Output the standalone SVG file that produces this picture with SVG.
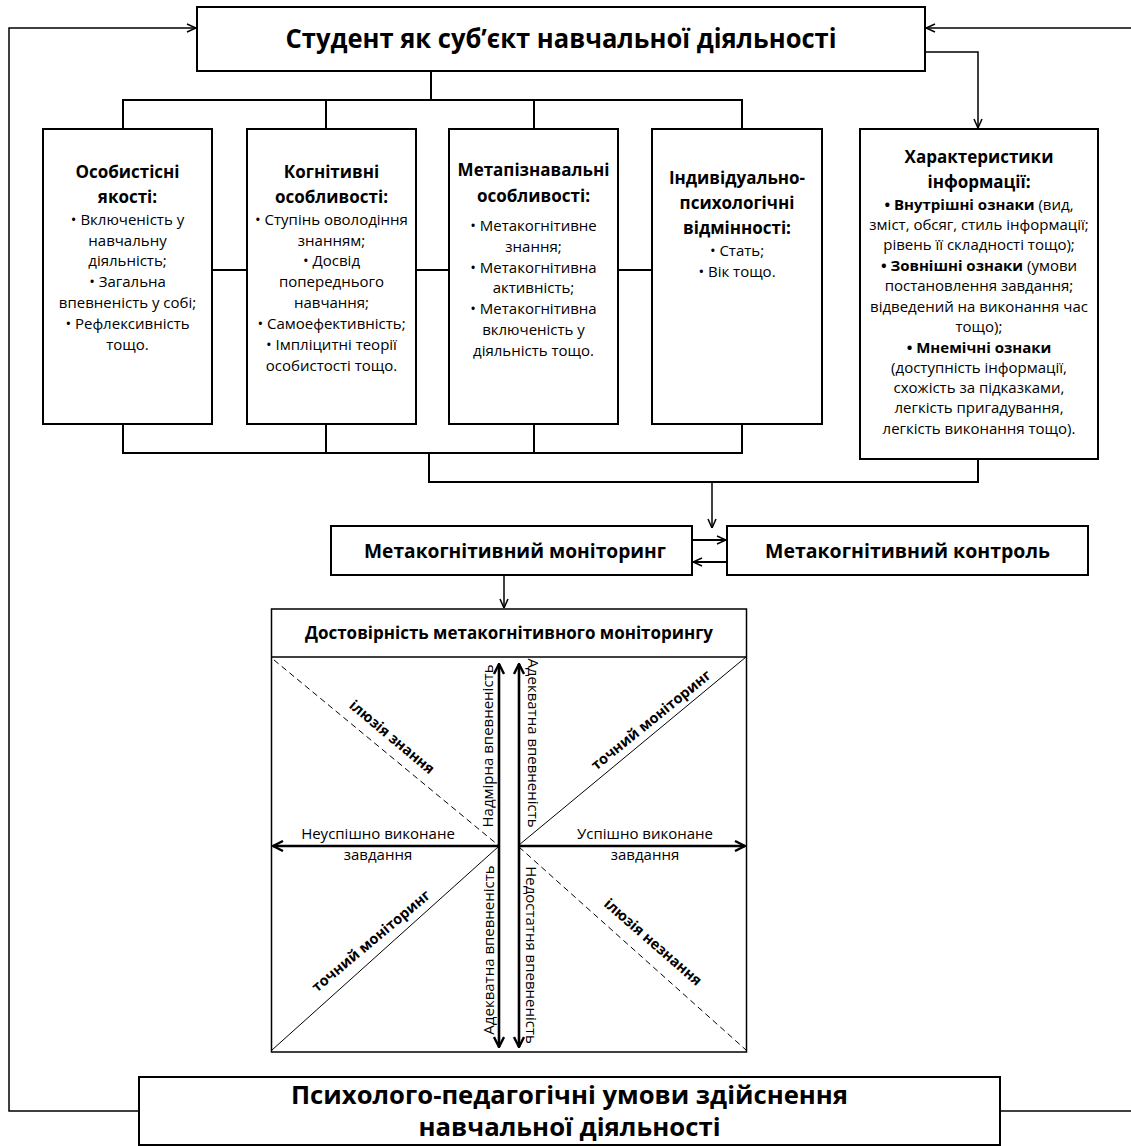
<svg xmlns="http://www.w3.org/2000/svg" width="1131" height="1146" viewBox="0 0 1131 1146">
<style>
.box{fill:#fff;stroke:#000;stroke-width:2}
.qbox{fill:#fff;stroke:#000;stroke-width:1.5}
.ln{fill:none;stroke:#000;stroke-width:2}
.thin{fill:none;stroke:#000;stroke-width:1.5}
.ax{fill:none;stroke:#000;stroke-width:2.6}
.diag{fill:none;stroke:#000;stroke-width:1}
.dash{fill:none;stroke:#000;stroke-width:1;stroke-dasharray:6 4}
text{font-family:"Open Sans","Noto Sans","DejaVu Sans",sans-serif;fill:#000}
.t{font-weight:700;font-size:26px;text-anchor:middle}
.m{font-weight:700;font-size:19px;text-anchor:middle}
.h{font-weight:700;font-size:17px;text-anchor:middle}
.b{font-size:15px;text-anchor:middle}
.bb{font-weight:700}
.q{font-size:15px;text-anchor:middle}
.d{font-weight:700;font-size:14.5px;text-anchor:middle}
</style>
<defs>
<marker id="a" viewBox="0 0 10 10" refX="10" refY="5" markerWidth="10" markerHeight="10" markerUnits="userSpaceOnUse" orient="auto-start-reverse">
<path d="M1,1 L10,5 L1,9" fill="none" stroke="#000" stroke-width="1.5"/>
</marker>
<marker id="ak" viewBox="0 0 12 12" refX="11" refY="6" markerWidth="12" markerHeight="12" markerUnits="userSpaceOnUse" orient="auto-start-reverse">
<path d="M1,1 L11,6 L1,11" fill="none" stroke="#000" stroke-width="2.4"/>
</marker>
</defs>

<g id="connectors">
<polyline class="thin" points="139,1111 9,1111 9,28 196,28" marker-end="url(#a)"/>
<polyline class="thin" points="1000,1111 1131,1111"/>
<polyline class="thin" points="1131,28 926,28" marker-end="url(#a)"/>
<polyline class="thin" points="925,52 978,52 978,128" marker-end="url(#a)"/>
<line class="ln" x1="431" y1="71" x2="431" y2="100"/>
<polyline class="ln" points="123,129 123,100 742,100 742,129"/>
<line class="ln" x1="326" y1="100" x2="326" y2="129"/>
<line class="ln" x1="534" y1="100" x2="534" y2="129"/>
<line class="ln" x1="212" y1="270" x2="247" y2="270"/>
<line class="ln" x1="416" y1="270" x2="449" y2="270"/>
<line class="ln" x1="618" y1="270" x2="652" y2="270"/>
<polyline class="ln" points="123,424 123,453 742,453 742,424"/>
<line class="ln" x1="326" y1="424" x2="326" y2="453"/>
<line class="ln" x1="534" y1="424" x2="534" y2="453"/>
<polyline class="ln" points="429,453 429,482 978,482 978,459"/>
<line class="thin" x1="712" y1="482" x2="712" y2="528" marker-end="url(#a)"/>
<line class="ln" x1="692" y1="540" x2="726" y2="540" marker-end="url(#a)"/>
<line class="ln" x1="727" y1="562" x2="693" y2="562" marker-end="url(#a)"/>
<line class="thin" x1="504" y1="575" x2="504" y2="608" marker-end="url(#a)"/>
</g>

<g id="node-student">
<rect class="box" x="197" y="7" width="728" height="64"/>
<text class="t" x="561" y="48" textLength="551" lengthAdjust="spacingAndGlyphs">Студент як суб’єкт навчальної діяльності</text>
</g>

<g id="node-personal">
<rect class="box" x="43" y="129" width="169" height="295"/>
<text class="h" x="127.5" y="178">Особистісні</text>
<text class="h" x="127.5" y="203">якості:</text>
<text class="b" x="127.5" y="225">• Включеність у</text>
<text class="b" x="127.5" y="246">навчальну</text>
<text class="b" x="127.5" y="266">діяльність;</text>
<text class="b" x="127.5" y="287">• Загальна</text>
<text class="b" x="127.5" y="308">впевненість у собі;</text>
<text class="b" x="127.5" y="329">• Рефлексивність</text>
<text class="b" x="127.5" y="350">тощо.</text>
</g>

<g id="node-cognitive">
<rect class="box" x="247" y="129" width="169" height="295"/>
<text class="h" x="331.5" y="178">Когнітивні</text>
<text class="h" x="331.5" y="203">особливості:</text>
<text class="b" x="331.5" y="225">• Ступінь оволодіння</text>
<text class="b" x="331.5" y="246">знанням;</text>
<text class="b" x="331.5" y="266">• Досвід</text>
<text class="b" x="331.5" y="287">попереднього</text>
<text class="b" x="331.5" y="308">навчання;</text>
<text class="b" x="331.5" y="329">• Самоефективність;</text>
<text class="b" x="331.5" y="350">• Імпліцитні теорії</text>
<text class="b" x="331.5" y="371">особистості тощо.</text>
</g>

<g id="node-metacognitive">
<rect class="box" x="449" y="129" width="169" height="295"/>
<text class="h" x="533.5" y="176">Метапізнавальні</text>
<text class="h" x="533.5" y="202">особливості:</text>
<text class="b" x="533.5" y="231">• Метакогнітивне</text>
<text class="b" x="533.5" y="252">знання;</text>
<text class="b" x="533.5" y="273">• Метакогнітивна</text>
<text class="b" x="533.5" y="293">активність;</text>
<text class="b" x="533.5" y="314">• Метакогнітивна</text>
<text class="b" x="533.5" y="335">включеність у</text>
<text class="b" x="533.5" y="356">діяльність тощо.</text>
</g>

<g id="node-individual">
<rect class="box" x="652" y="129" width="170" height="295"/>
<text class="h" x="737" y="184">Індивідуально-</text>
<text class="h" x="737" y="209">психологічні</text>
<text class="h" x="737" y="234">відмінності:</text>
<text class="b" x="737" y="256">• Стать;</text>
<text class="b" x="737" y="277">• Вік тощо.</text>
</g>

<g id="node-info">
<rect class="box" x="860" y="129" width="238" height="330"/>
<text class="h" x="979" y="163">Характеристики</text>
<text class="h" x="979" y="188">інформації:</text>
<text class="b" x="979" y="210"><tspan class="bb">• Внутрішні ознаки</tspan> (вид,</text>
<text class="b" x="979" y="230">зміст, обсяг, стиль інформації;</text>
<text class="b" x="979" y="250">рівень її складності тощо);</text>
<text class="b" x="979" y="271"><tspan class="bb">• Зовнішні ознаки</tspan> (умови</text>
<text class="b" x="979" y="291">постановлення завдання;</text>
<text class="b" x="979" y="312">відведений на виконання час</text>
<text class="b" x="979" y="332">тощо);</text>
<text class="b bb" x="979" y="353">• Мнемічні ознаки</text>
<text class="b" x="979" y="373">(доступність інформації,</text>
<text class="b" x="979" y="393">схожість за підказками,</text>
<text class="b" x="979" y="413">легкість пригадування,</text>
<text class="b" x="979" y="434">легкість виконання тощо).</text>
</g>

<g id="node-monitoring">
<rect class="box" x="331" y="526" width="361" height="49"/>
<text class="m" x="515" y="558" textLength="302" lengthAdjust="spacingAndGlyphs">Метакогнітивний моніторинг</text>
</g>

<g id="node-control">
<rect class="box" x="727" y="526" width="361" height="49"/>
<text class="m" x="907.5" y="558" textLength="285" lengthAdjust="spacingAndGlyphs">Метакогнітивний контроль</text>
</g>

<g id="node-reliability">
<rect class="qbox" x="271.5" y="609" width="475" height="443"/>
<line class="qbox" x1="271.5" y1="657" x2="746.5" y2="657"/>
<text class="h" x="509" y="639" style="font-size:18px" textLength="408" lengthAdjust="spacingAndGlyphs">Достовірність метакогнітивного моніторингу</text>
<line class="dash" x1="274" y1="660" x2="498" y2="845"/>
<line class="diag" x1="519" y1="845" x2="746" y2="657"/>
<line class="diag" x1="498" y1="847" x2="272" y2="1050"/>
<line class="dash" x1="519" y1="847" x2="746" y2="1050"/>
<line class="ax" x1="499" y1="846" x2="499" y2="664" marker-end="url(#ak)"/>
<line class="ax" x1="499" y1="846" x2="499" y2="1047" marker-end="url(#ak)"/>
<line class="ax" x1="519" y1="846" x2="519" y2="664" marker-end="url(#ak)"/>
<line class="ax" x1="519" y1="846" x2="519" y2="1047" marker-end="url(#ak)"/>
<line class="ax" x1="499" y1="846" x2="273" y2="846" marker-end="url(#ak)"/>
<line class="ax" x1="519" y1="846" x2="745" y2="846" marker-end="url(#ak)"/>
<text class="q" x="378" y="839">Неуспішно виконане</text>
<text class="q" x="378" y="860">завдання</text>
<text class="q" x="645" y="839">Успішно виконане</text>
<text class="q" x="645" y="860">завдання</text>
<text class="q" transform="translate(493,746) rotate(-90)">Надмірна впевненість</text>
<text class="q" transform="translate(528,743) rotate(90)">Адекватна впевненість</text>
<text class="q" transform="translate(494,950) rotate(-90)">Адекватна впевненість</text>
<text class="q" transform="translate(526,955) rotate(90)">Недостатня впевненість</text>
<text class="d" transform="translate(392,737) rotate(40)" y="5">ілюзія знання</text>
<text class="d" transform="translate(651,720) rotate(-39)" y="5">точний моніторинг</text>
<text class="d" transform="translate(371,941) rotate(-40)" y="5">точний моніторинг</text>
<text class="d" transform="translate(653,942) rotate(41)" y="5">ілюзія незнання</text>
</g>

<g id="node-conditions">
<rect class="box" x="139" y="1077" width="861" height="68"/>
<text class="t" x="569.5" y="1104" style="font-size:25px" textLength="557" lengthAdjust="spacingAndGlyphs">Психолого-педагогічні умови здійснення</text>
<text class="t" x="569.5" y="1136" style="font-size:25px" textLength="302" lengthAdjust="spacingAndGlyphs">навчальної діяльності</text>
</g>
</svg>
